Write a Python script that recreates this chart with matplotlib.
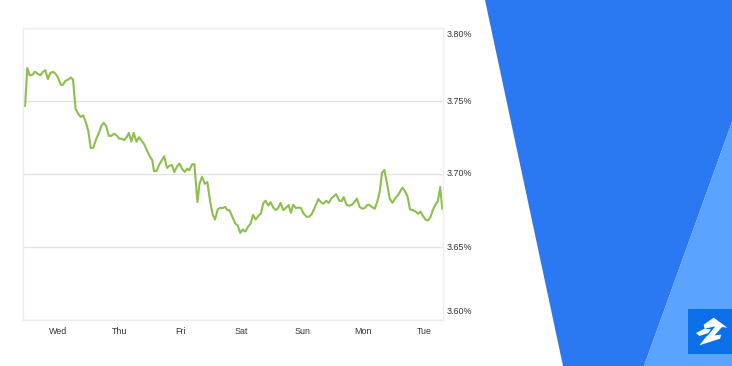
"""Mortgage rate line over the last week, with the blue corner artwork."""

from matplotlib import pyplot as plt
from matplotlib.patches import Polygon, Rectangle
from matplotlib.transforms import ScaledTranslation

hours = [
    0, 0.8, 1.7, 2.6, 3.7, 4.7, 5.8, 6.8, 7.9, 8.8, 9.8, 10.7, 11.8, 12.8, 13.8,
    14.9, 15.7, 16.6, 17.7, 18.9, 19.7, 20.7, 21.8, 22.7, 23.7, 24.8, 25.7, 26.7,
    27.7, 28.8, 29.9, 30.9, 31.8, 32.8, 33.8, 34.7, 35.9, 37.0, 38.0, 38.9, 39.8,
    40.8, 41.7, 42.7, 43.6, 44.7, 45.7, 46.8, 47.8, 48.9, 49.9, 50.9, 51.6, 52.6,
    53.7, 55.6, 56.7, 57.7, 58.6, 59.6, 60.7, 61.6, 62.6, 63.7, 64.6, 65.5, 66.6,
    67.5, 68.7, 69.5, 70.5, 71.6, 72.6, 73.7, 74.7, 75.6, 76.7, 77.6, 78.6, 79.6,
    80.5, 81.3, 82.3, 83.6, 84.5, 85.6, 86.5, 87.5, 88.6, 89.6, 90.6, 91.6, 92.7,
    93.7, 94.6, 95.5, 96.6, 97.5, 98.6, 99.6, 100.5, 101.4, 102.5, 103.5, 104.6,
    105.5, 106.4, 107.5, 108.5, 109.4, 110.5, 111.7, 112.7, 113.6, 114.7, 116.3,
    117.3, 118.3, 119.4, 120.4, 121.4, 122.4, 123.3, 124.5, 125.4, 126.3, 127.4,
    128.4, 129.5, 130.5, 131.5, 132.5, 133.6, 134.5, 135.5, 136.4, 137.5, 138.5,
    139.6, 140.5, 141.4, 142.3, 143.4, 144.4, 145.5, 146.5, 147.7, 148.5, 149.4,
    150.3, 151.4, 152.4, 153.6, 154.7, 155.6, 156.5, 157.5, 158.6, 159.5, 160.4,
    161.6, 162.6, 163.4, 164.3, 165.1,
]
rates = [
    3.7465, 3.7465, 3.7725, 3.7675, 3.768, 3.770, 3.7686, 3.7675, 3.770, 3.771,
    3.765, 3.769, 3.770, 3.7686, 3.766, 3.761, 3.761, 3.7636, 3.7645, 3.766,
    3.7645, 3.7445, 3.741, 3.739, 3.740, 3.735, 3.7295, 3.7175, 3.718, 3.7238,
    3.728, 3.733, 3.735, 3.7325, 3.726, 3.726, 3.7275, 3.726, 3.724, 3.724,
    3.723, 3.725, 3.728, 3.722, 3.728, 3.722, 3.725, 3.7225, 3.720, 3.7157,
    3.712, 3.7093, 3.7017, 3.702, 3.7065, 3.712, 3.704, 3.7055, 3.706, 3.7012,
    3.705, 3.707, 3.7035, 3.7012, 3.7035, 3.7024, 3.7065, 3.7065, 3.6805, 3.693,
    3.698, 3.693, 3.6943, 3.681, 3.672, 3.6686, 3.6755, 3.6766, 3.6764, 3.6773,
    3.675, 3.675, 3.671, 3.6658, 3.6647, 3.6594, 3.6617, 3.6603, 3.6635, 3.6658,
    3.6718, 3.6686, 3.671, 3.6727, 3.6796, 3.6815, 3.6782, 3.6805, 3.6766, 3.675,
    3.6766, 3.680, 3.675, 3.6766, 3.6785, 3.6732, 3.6787, 3.6764, 3.6768, 3.6766,
    3.6727, 3.6704, 3.6706, 3.672, 3.676, 3.6826, 3.6805, 3.6794, 3.6815, 3.680,
    3.683, 3.6846, 3.686, 3.6817, 3.6812, 3.684, 3.6787, 3.678, 3.6787, 3.6805,
    3.683, 3.6775, 3.676, 3.6764, 3.6785, 3.6787, 3.677, 3.676, 3.6812, 3.688,
    3.7007, 3.7026, 3.693, 3.683, 3.680, 3.683, 3.6854, 3.6877, 3.6904, 3.6884,
    3.6846, 3.6755, 3.675, 3.674, 3.6725, 3.6741, 3.671, 3.6684, 3.668, 3.670,
    3.676, 3.6794, 3.6812, 3.6909, 3.676,
]
day_hours = [14.0, 38.0, 62.0, 86.0, 110.0, 133.7, 158.0]
day_labels = ['Wed', 'Thu', 'Fri', 'Sat', 'Sun', 'Mon', 'Tue']
rate_ticks = [3.60, 3.65, 3.70, 3.75, 3.80]
rate_labels = ['3.60%', '3.65%', '3.70%', '3.75%', '3.80%']

WIDTH, HEIGHT = 732, 366

plt.rcParams['font.family'] = ['Liberation Sans', 'DejaVu Sans']

fig = plt.figure(figsize=(WIDTH / 100, HEIGHT / 100), dpi=100)

# background artwork, in pixel coordinates
bg = fig.add_axes([0, 0, 1, 1], xlim=(0, WIDTH), ylim=(HEIGHT, 0))
bg.axis('off')
bg.add_patch(Polygon([(485, 0), (732, 0), (732, 122), (644, 366), (563, 366)],
                     color='#2b78f3', lw=0))
bg.add_patch(Polygon([(732, 122), (732, 366), (644, 366)], color='#5aa4ff', lw=0))
bg.add_patch(Rectangle((688, 309), 44, 45, color='#0a6fe8', lw=0))


def logo_points(points):
    """Map logo outline points from its 120px sketch to figure pixels."""
    return [(692 + px / 3, 312 + py / 3) for px, py in points]


bg.add_patch(Polygon(logo_points([(12, 63), (38, 50), (35, 38), (65, 17), (106, 47),
                                  (90, 45), (68, 70), (88, 68), (84, 80), (22, 100),
                                  (52, 62), (22, 72), (18, 68)]),
                     color='white', lw=0))
bg.add_patch(Polygon(logo_points([(38, 50), (70, 43), (48, 70), (43, 73), (56, 52)]),
                     color='#0a6fe8', lw=0))

ax = fig.add_axes([23 / WIDTH, 1 - 319.5 / HEIGHT, 420 / WIDTH, 291.5 / HEIGHT])
ax.patch.set_alpha(0)
ax.plot(hours, rates, color='#8cbf4d', lw=1.5, solid_joinstyle='round')
ax.set_xlim(0, 165.4)
ax.set_ylim(3.60, 3.80)
ax.set_xticks(day_hours)
ax.set_xticklabels(day_labels)
ax.set_yticks(rate_ticks)
ax.set_yticklabels(rate_labels)
ax.yaxis.tick_right()
ax.tick_params(length=0, labelsize=6.4, labelcolor='#333333')
ax.tick_params(axis='x', pad=5.5)
ax.tick_params(axis='y', pad=2.5)
# the end labels sit inside the plot range, like the original
ax.get_yticklabels()[0].set_va('bottom')
ax.get_yticklabels()[-1].set_va('top')
end_shifts = {0: 4, 2: 1, 4: -2}
for index, shift in end_shifts.items():
    label = ax.get_yticklabels()[index]
    label.set_transform(label.get_transform() + ScaledTranslation(0, shift / 100, fig.dpi_scale_trans))
ax.grid(axis='y', color='#e3e3e3', lw=1)
ax.set_axisbelow(True)
for side in ax.spines:
    ax.spines[side].set_color('#eeeeee')
    ax.spines[side].set_linewidth(1)

fig.savefig('out.png', dpi=100)
